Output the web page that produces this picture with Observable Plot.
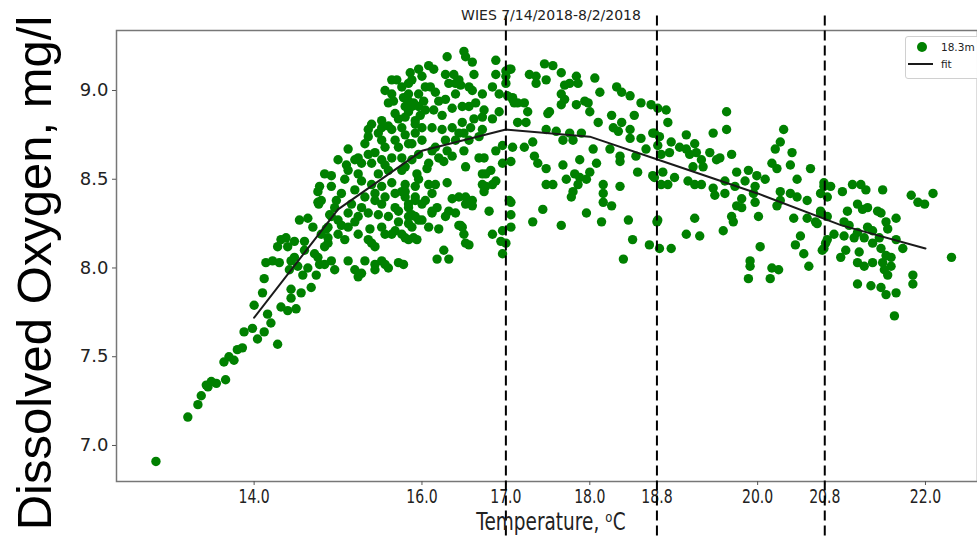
<!DOCTYPE html>
<html>
<head>
<meta charset="utf-8">
<script src="https://cdn.jsdelivr.net/npm/d3@7"></script>
<script src="https://cdn.jsdelivr.net/npm/@observablehq/plot@0.6"></script>
<style>
  html, body { margin: 0; padding: 0; background: white; }
  #wrap { position: relative; width: 977px; height: 538px; overflow: hidden; }
  #legend {
    position: absolute; left: 905px; top: 36px; width: 90px; height: 41px;
    border: 1px solid #d0d0d0; border-radius: 3px; background: rgba(255,255,255,0.9);
    font-family: "DejaVu Sans", sans-serif; font-size: 10.5px; color: #222;
  }
  #legend .row { position: absolute; left: 0; height: 14px; line-height: 14px; }
  #legend .sym { position: absolute; }
  #legend .lab { position: absolute; left: 35px; top: 0; white-space: nowrap; }
</style>
</head>
<body>
<div id="wrap">
  <div id="chart"></div>
  <div id="legend">
    <div class="row" style="top:3px">
      <div class="sym" style="left:11px;top:2px;width:10px;height:10px;border-radius:50%;background:#008000"></div>
      <div class="lab">18.3m</div>
    </div>
    <div class="row" style="top:20px">
      <div class="sym" style="left:2px;top:6px;width:25px;height:2px;background:#1a1a1a"></div>
      <div class="lab">fit</div>
    </div>
  </div>
</div>
<script>
// ---------------- data ----------------
const titleText = "WIES 7/14/2018-8/2/2018";
const yLabelText = "Dissolved Oxygen, mg/l";
const xLabelText = "Temperature, \u1D52C";
const yTicks = [7.0, 7.5, 8.0, 8.5, 9.0];
const xTicks = [14.0, 16.0, 17.0, 18.0, 18.8, 20.0, 20.8, 22.0];
const cutTemps = [17.0, 18.8, 20.8];
const cutSpan = [6.49, 9.43];
const fitTemp = [14, 15, 16, 17, 18, 19, 20, 21, 22];
const fitDO = [7.72, 8.33, 8.66, 8.78, 8.74, 8.58, 8.42, 8.24, 8.11];

// observations at 18.3 m: [temperature °C, dissolved oxygen mg/l]
const obsLowTail = [
  [12.83,6.91],[13.21,7.16],[13.33,7.23],[13.37,7.28],[13.45,7.33],[13.49,7.36],[13.55,7.35],[13.66,7.37],[13.43,7.34],
  [13.64,7.47],[13.70,7.50],[13.76,7.48],[13.80,7.54],[13.86,7.55],[13.88,7.64],[13.98,7.66],[14.04,7.60],[14.12,7.64],
  [14.28,7.57],[14.00,7.79],[14.16,7.74],[14.20,7.69],[14.10,7.86],[14.12,7.94],[14.14,8.03],[14.22,8.04],[14.30,8.03],
  [14.28,8.12],[14.32,8.16],[14.40,8.12],[14.48,8.15],[14.54,8.27],[14.64,8.28],[14.70,8.23],[14.77,8.36],[14.32,7.78],
  [14.40,7.76],[14.50,7.77],[14.44,7.83],[14.56,7.86],[14.68,7.89],[14.42,7.99],[14.44,7.88],[14.52,8.01],[14.58,7.96],
  [14.64,8.00],[14.74,7.96],[14.48,8.06],[14.60,8.10],[14.76,8.06],[14.84,8.02],[14.88,8.14],[14.80,8.19],[14.88,8.23]
];
const obsRise = [
  [14.38,8.17],[14.60,8.15],[14.44,8.04],[14.72,8.08],[14.84,8.12],[14.78,8.02],[14.92,8.04],[14.96,7.99],[15.12,8.04],
  [15.20,7.99],[15.32,8.04],[15.28,7.97],[15.44,8.02],[15.52,8.04],[15.60,8.00],[15.72,8.03],
  [14.76,8.43],[14.80,8.38],[14.92,8.46],[14.96,8.34],[15.04,8.42],[14.92,8.29],[15.00,8.27],[15.12,8.31],[15.24,8.29],
  [15.12,8.23],[15.00,8.19],[15.24,8.19],[15.36,8.16],[14.88,8.17],[15.08,8.16],[15.44,8.12],[15.52,8.23],[15.60,8.29],
  [15.72,8.32],[15.84,8.36],[15.68,8.42],[15.76,8.43],[15.92,8.40],[15.52,8.36],[15.36,8.31],[15.44,8.42],[15.40,8.47],
  [15.28,8.49],[15.52,8.46],[15.64,8.19],[15.76,8.19],[15.90,8.17],[15.84,8.29],[15.96,8.27],
  [15.00,8.61],[15.12,8.67],[15.12,8.55],[15.24,8.62],[15.36,8.64],[15.24,8.53],[15.40,8.59],[15.52,8.61],[15.64,8.62],
  [15.48,8.53],[15.60,8.55],[15.32,8.70],[15.40,8.81],[15.52,8.83],[15.36,8.74],[15.64,8.78],[15.76,8.79],[15.72,8.68],
  [15.84,8.70],[15.88,8.61],[15.96,8.64],[15.76,8.55],[15.92,8.76],[15.92,8.83],[15.96,8.91],[15.68,8.87],[15.80,8.91],
  [15.64,8.98],[15.76,9.02],[15.88,9.06],[15.84,8.98],[15.56,9.00],[15.64,9.06],[15.96,8.98],[15.90,8.93],[15.60,8.93],
  [15.52,8.79],[14.84,8.53],[14.78,8.46],[15.76,8.62],[15.28,8.59],[15.52,8.72],[15.20,8.61],
  [14.92,8.52],[14.76,8.37],[15.56,8.19],[15.68,8.21],[15.56,8.02],[15.40,8.14],[15.44,7.99],[15.24,7.95],[15.88,8.23],
  [15.84,8.16],[15.44,8.65],[15.56,8.68],[15.68,8.72],[15.80,8.75],[15.72,8.84],[15.84,8.88],[15.60,8.80],[15.48,8.76],
  [15.36,8.78],[15.66,8.94],[15.78,8.96],[15.70,9.06],[15.86,9.10],[15.96,9.12],[15.98,8.86],[15.56,8.58],[15.64,8.48],
  [15.44,8.38],[15.32,8.40],[15.20,8.44],[15.08,8.50],[15.16,8.36],[15.28,8.34],[15.48,8.30],[15.68,8.34],[15.80,8.40],
  [15.96,8.50],[15.10,8.58],[14.98,8.38],[14.90,8.30],[14.86,8.22],[15.04,8.24],[15.20,8.26],[15.38,8.22],[15.56,8.40],
  [15.72,8.26],[15.88,8.30]
];
const obsPeak = [
  [16.30,9.19],[16.50,9.22],[16.52,9.19],[16.08,9.14],[16.14,9.12],[16.28,9.09],[16.38,9.09],[16.60,9.16],[16.62,9.09],
  [16.40,9.04],[16.32,9.04],[16.46,9.03],[16.00,9.08],[15.84,9.04],[16.04,9.02],[15.84,8.94],[16.16,8.99],[16.28,8.95],
  [16.40,8.98],[16.60,9.00],[16.64,8.93],[16.72,8.98],[16.84,9.02],[16.88,9.09],[16.88,9.17],[17.00,9.11],[17.06,9.12],
  [16.92,8.98],[17.08,8.95],[17.14,8.93],[16.74,8.89],[16.72,8.85],[16.92,8.88],[16.84,8.84],[17.14,8.82],[16.56,8.91],
  [16.48,8.91],[16.36,8.90],[16.24,8.86],[16.14,8.89],[16.04,8.89],[15.88,8.91],[15.80,8.85],[15.92,8.81],[16.00,8.79],
  [16.12,8.79],[16.24,8.78],[16.36,8.79],[16.48,8.82],[16.58,8.79],[16.72,8.78],[16.44,8.76],[16.56,8.72],[16.28,8.72],
  [16.16,8.68],[16.00,8.72],[15.88,8.70],[16.12,8.66],[16.36,8.63],[16.26,8.60],[16.52,8.57],[16.68,8.62],[16.74,8.62],
  [16.88,8.66],[16.96,8.69],[17.08,8.68],[17.06,8.60],[16.76,8.53],[16.82,8.55],[16.88,8.49],[16.72,8.47],[16.84,8.47],
  [16.74,8.43],[17.04,8.38],[17.06,8.30],[17.06,8.23],[16.96,8.21],[16.84,8.19],[16.94,8.15],[16.96,8.08],[16.80,8.32],
  [16.60,8.35],[16.52,8.36],[16.44,8.40],[16.36,8.39],[16.32,8.32],[16.18,8.34],[16.12,8.31],[16.40,8.31],[16.46,8.24],
  [16.50,8.19],[16.56,8.13],[16.26,8.10],[16.18,8.05],[16.32,8.05],[16.20,8.22],[16.08,8.23],[16.00,8.27],[15.92,8.29],
  [15.84,8.25],[15.80,8.17],[15.94,8.16],[16.04,8.38],[15.92,8.38],[15.84,8.34],[15.92,8.46],[16.08,8.47],[16.16,8.47],
  [16.30,8.48],[15.80,8.43],[15.80,8.47],[15.94,8.53],[16.08,8.59],[15.80,8.57],[15.78,8.02],
  [16.52,8.14],[16.44,8.24],[16.72,8.53],[16.76,8.46],[16.96,8.59],[16.12,8.42],[16.52,8.40],[16.60,8.38],[16.12,8.32],
  [16.00,8.36],[16.28,8.29],[16.48,8.23],[16.06,8.56],[16.20,8.62],[16.30,8.66],[16.40,8.72],[16.50,8.76],[16.62,8.84],
  [16.20,8.94],[16.44,9.06],[16.56,9.02],[16.10,9.02],[16.02,8.94],[16.68,8.74],[16.50,8.66]
];
const obsDecline = [
  [17.04,9.12],[17.00,9.08],[17.00,9.04],[17.08,8.96],[17.10,8.93],[17.02,8.97],[17.22,8.93],[17.26,8.88],[17.24,8.82],
  [17.46,9.15],[17.56,9.14],[17.28,9.09],[17.36,9.08],[17.48,9.06],[17.36,9.04],[17.66,9.10],[17.70,9.03],[17.76,9.04],
  [17.86,9.04],[17.66,8.98],[17.70,8.95],[17.84,9.08],[18.06,9.07],[18.12,8.99],[17.94,8.94],[17.84,8.92],[17.98,8.93],
  [18.00,8.88],[17.66,8.92],[17.52,8.88],[17.50,8.87],[18.32,9.02],[18.38,8.99],[18.48,8.97],[18.61,8.93],[18.73,8.92],
  [18.26,8.86],[18.10,8.82],[18.28,8.79],[18.38,8.82],[18.48,8.78],[18.53,8.86],[18.34,8.77],[18.48,8.73],[18.61,8.73],
  [18.67,8.67],[18.75,8.76],[18.81,8.69],[18.85,8.64],[17.48,8.78],[17.60,8.77],[17.76,8.76],[17.90,8.76],[17.68,8.72],
  [17.80,8.72],[17.22,8.68],[17.32,8.71],[17.34,8.63],[17.38,8.59],[17.48,8.56],[18.04,8.67],[18.24,8.67],[18.36,8.63],
  [18.36,8.60],[17.88,8.61],[17.68,8.58],[18.08,8.59],[18.55,8.63],[18.57,8.54],[18.75,8.52],[18.85,8.47],[17.72,8.50],
  [17.82,8.53],[17.88,8.51],[18.00,8.54],[17.96,8.50],[17.86,8.47],[17.80,8.43],[17.78,8.40],[17.48,8.47],[17.56,8.47],
  [18.16,8.47],[18.16,8.42],[18.16,8.37],[18.26,8.35],[18.36,8.46],[17.44,8.33],[17.96,8.31],[17.06,8.37],[17.32,8.26],
  [17.66,8.24],[18.14,8.26],[18.46,8.27],[18.51,8.16],[18.71,8.13],[18.80,8.26],[17.00,8.14],[18.40,8.05],
  [18.81,8.90],[18.91,8.89],[18.93,8.82],[18.77,8.76],[18.83,8.74],[18.97,8.71],[18.95,8.65],[19.07,8.68],[19.15,8.75],
  [19.15,8.67],[19.25,8.70],[19.27,8.65],[19.19,8.64],[19.33,8.61],[19.35,8.57],[19.23,8.57],[19.43,8.65],[19.47,8.76],
  [19.63,8.88],[19.63,8.78],[19.69,8.64],[19.55,8.62],[19.51,8.61],[18.87,8.54],[19.01,8.51],[18.93,8.47],[18.77,8.51],
  [19.17,8.49],[19.25,8.47],[19.33,8.47],[19.47,8.45],[19.49,8.41],[19.61,8.42],[19.61,8.49],[19.75,8.54],[19.73,8.46],
  [19.89,8.55],[19.85,8.49],[19.99,8.52],[20.09,8.50],[19.97,8.46],[19.95,8.42],[19.81,8.39],[19.75,8.35],[19.81,8.34],
  [19.97,8.37],[20.31,8.78],[20.27,8.71],[20.21,8.67],[20.41,8.65],[20.39,8.58],[20.17,8.59],[20.23,8.56],[20.63,8.56],
  [20.47,8.50],[20.27,8.43],[20.39,8.42],[20.47,8.40],[20.59,8.38],[20.27,8.38],[20.23,8.35],[20.43,8.28],[20.59,8.28],
  [20.75,8.32],[20.71,8.25],[20.79,8.46],[20.83,8.40],[19.25,8.28],[19.69,8.29],[19.71,8.26],[20.01,8.29],[18.81,8.27],
  [19.15,8.19],[19.31,8.18],[19.59,8.21],[18.83,8.11],[18.97,8.11],[20.03,8.12],[19.91,8.04],[19.91,8.01],[19.89,7.94],
  [20.17,8.00],[20.25,7.99],[20.15,7.94],[20.45,8.13],[20.51,8.18],[20.55,8.08],[20.61,8.01],[20.77,8.10],[20.81,8.14]
];
const obsWarm = [
  [20.79,8.48],[20.87,8.46],[20.75,8.42],[21.01,8.43],[21.13,8.47],[21.23,8.47],[21.29,8.44],[21.49,8.44],[21.83,8.41],
  [21.91,8.37],[21.99,8.36],[22.09,8.42],[21.19,8.36],[21.25,8.33],[21.31,8.34],[21.07,8.32],[21.43,8.32],[21.47,8.31],
  [21.53,8.26],[21.55,8.22],[21.65,8.28],[20.75,8.31],[20.69,8.26],[20.83,8.29],[21.03,8.26],[21.09,8.24],[21.31,8.23],
  [21.37,8.21],[21.19,8.20],[20.91,8.19],[21.03,8.18],[21.15,8.17],[21.27,8.17],[20.83,8.16],[21.45,8.17],[21.65,8.16],
  [21.73,8.11],[20.79,8.11],[21.05,8.10],[20.99,8.06],[21.21,8.09],[21.37,8.14],[21.47,8.11],[21.53,8.07],[21.59,8.06],
  [21.49,8.03],[21.19,8.03],[21.27,8.01],[21.37,8.03],[21.51,7.99],[21.59,8.01],[21.85,7.96],[21.55,7.96],[21.85,7.91],
  [21.19,7.91],[21.35,7.90],[21.47,7.89],[21.53,7.85],[21.65,7.86],[21.63,7.73],[22.31,8.06]
];

// ---------------- chart ----------------
const obs = [...obsLowTail, ...obsRise, ...obsPeak, ...obsDecline, ...obsWarm];
const fit = fitTemp.map((t, i) => ({t, v: fitDO[i]}));
const f1 = d => d.toFixed(1);

const chart = Plot.plot({
  width: 977,
  height: 538,
  marginLeft: 116,
  marginRight: 0,
  marginTop: 30,
  marginBottom: 57,
  x: {domain: [12.36, 22.62], label: null},
  y: {domain: [6.797, 9.338], label: null},
  style: {fontFamily: "'DejaVu Sans', sans-serif", color: "#222", background: "white", overflow: "visible"},
  marks: [
    Plot.frame({stroke: "#777", strokeWidth: 1.5}),
    Plot.dot(obs, {x: d => d[0], y: d => d[1], r: 4.7, fill: "#008000", stroke: null}),
    Plot.line(fit, {x: "t", y: "v", stroke: "#1a1a1a", strokeWidth: 2}),
    Plot.axisY({ticks: yTicks, tickFormat: f1, fontSize: 18, tickSize: 4, tickPadding: 4, label: null, stroke: "#555"}),
    Plot.axisX({ticks: xTicks, tickFormat: f1, fontSize: 19, tickSize: 4, tickPadding: 4, label: null, stroke: "#555"}),
    Plot.ruleX(cutTemps, {x: d => d, y1: cutSpan[0], y2: cutSpan[1], stroke: "black", strokeWidth: 2, strokeDasharray: "10,5"}),
    Plot.text([yLabelText], {text: d => d, frameAnchor: "left", textAnchor: "middle", rotate: -90, dx: -81, dy: 17,
      fontSize: 49, fontFamily: "'Liberation Sans', Arial, sans-serif", fill: "black", lineAnchor: "middle"}),
    Plot.text([titleText], {text: d => d, frameAnchor: "top", textAnchor: "middle", dx: 4, dy: -15, fontSize: 14,
      fill: "#222", lineAnchor: "middle"}),
    Plot.text([xLabelText], {text: d => d, frameAnchor: "bottom", textAnchor: "middle", dx: 4, dy: 40, fontSize: 25,
      fill: "#222", lineAnchor: "middle"})
  ]
});
document.getElementById("chart").appendChild(chart);

// condensed look of the bottom strip (x tick labels and x axis title)
const condense = t => {
  const tr = t.getAttribute("transform") || "";
  t.setAttribute("transform", tr + " scale(0.74,1)");
};
chart.querySelectorAll('g[aria-label="x-axis tick label"] text').forEach(condense);
chart.querySelectorAll("text").forEach(t => { if (t.textContent === xLabelText) condense(t); });
</script>
</body>
</html>
